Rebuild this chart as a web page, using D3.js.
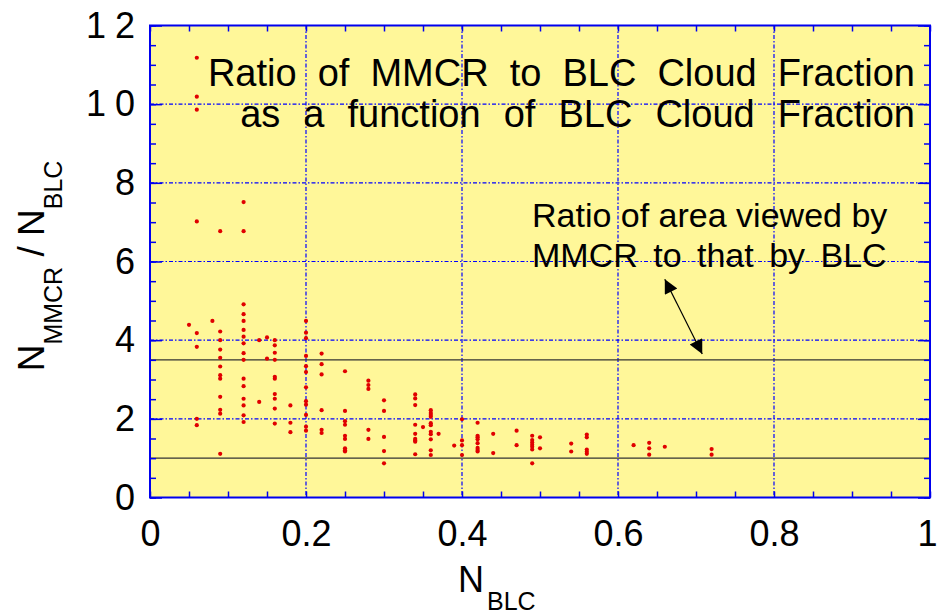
<!DOCTYPE html>
<html>
<head>
<meta charset="utf-8">
<script src="https://cdn.jsdelivr.net/npm/d3@7"></script>
<style>
  body { margin: 0; background: #fff; }
  svg { display: block; font-family: "Liberation Sans", Arial, sans-serif; }
</style>
</head>
<body>
<svg id="chart"></svg>
<script>
// N_BLC columns and the N_MMCR / N_BLC ratios read in each column
var blcFraction = [0.05, 0.06, 0.08, 0.09, 0.12, 0.14, 0.15, 0.16, 0.18, 0.20,
  0.22, 0.25, 0.28, 0.30, 0.34, 0.35, 0.36, 0.37, 0.39, 0.40, 0.42, 0.44,
  0.47, 0.49, 0.50, 0.54, 0.56, 0.62, 0.64, 0.66, 0.72];
var ratioByColumn = [
  [4.39],
  [11.18, 10.19, 9.86, 7.02, 4.18, 3.83, 2.0, 1.84],
  [4.49],
  [6.77, 4.22, 4.0, 3.76, 3.55, 3.33, 3.11, 3.02, 2.56, 2.23, 2.13, 1.11],
  [7.51, 6.77, 4.91, 4.66, 4.49, 4.26, 4.09, 3.92, 3.67, 3.50, 3.02, 2.83, 2.51, 2.34, 2.09, 1.92],
  [4.0, 2.43],
  [4.07, 3.53],
  [4.0, 3.87, 3.68, 3.50, 3.07, 3.02, 2.63, 2.51, 2.26, 1.88],
  [2.34, 1.90, 1.66],
  [4.49, 4.19, 4.05, 3.60, 3.34, 3.19, 2.80, 2.45, 2.36, 2.10, 1.80, 1.70],
  [3.66, 3.39, 3.13, 2.22, 1.72, 1.64],
  [3.21, 2.20, 1.94, 1.85, 1.57, 1.49, 1.25, 1.20, 1.17],
  [2.97, 2.86, 2.76, 1.72, 1.49],
  [2.47, 2.20, 1.54, 1.18, 0.87],
  [2.62, 2.52, 2.35, 1.85, 1.62, 1.49, 1.45, 1.42, 1.10],
  [1.79],
  [2.22, 2.15, 2.10, 2.05, 1.89, 1.84, 1.67, 1.61, 1.48, 1.20, 1.08],
  [1.62],
  [1.32],
  [1.99, 1.45, 1.33, 1.08],
  [1.90, 1.57, 1.53, 1.48, 1.38, 1.26, 1.21, 1.17],
  [1.62, 1.13],
  [1.70, 1.33],
  [1.57, 1.46, 1.40, 1.34, 1.29, 1.22, 0.87],
  [1.53, 1.25],
  [1.37, 1.17],
  [1.60, 1.53, 1.22, 1.16, 1.11],
  [1.33],
  [1.39, 1.25, 1.09],
  [1.29],
  [1.23, 1.09]
];

var xTicks = [0, 0.2, 0.4, 0.6, 0.8, 1];
var xTickLabels = ['0', '0.2', '0.4', '0.6', '0.8', '1'];
var yTicks = [0, 2, 4, 6, 8, 10, 12];
var yTickLabels = ['0', '2', '4', '6', '8', '10', '12'];
var refLines = [1.0, 3.5];   // horizontal reference levels
var titleLines = ['Ratio of MMCR to BLC Cloud Fraction', 'as a function of BLC Cloud Fraction'];
var noteLines = ['Ratio of area viewed by', 'MMCR to that by BLC'];
var arrowEnds = [[0.66, 5.55], [0.708, 3.65]];

var width = 937;
var height = 616;
var plotLeft = 150, plotRight = 930, plotTop = 25.5, plotBottom = 497.5;

var points = [];
blcFraction.forEach(function(bx, i) {
  ratioByColumn[i].forEach(function(r) { points.push({x: bx, y: r}); });
});

var x = d3.scaleLinear().domain([0, 1]).range([plotLeft, plotRight]);
var y = d3.scaleLinear().domain([0, 12]).range([plotBottom, plotTop]);

var svg = d3.select('#chart').attr('width', width).attr('height', height);

var defs = svg.append('defs');
defs.append('marker')
    .attr('id', 'head')
    .attr('viewBox', '0 0 10 10')
    .attr('refX', 10).attr('refY', 5)
    .attr('markerWidth', 18).attr('markerHeight', 14)
    .attr('markerUnits', 'userSpaceOnUse')
    .attr('orient', 'auto-start-reverse')
    .append('path')
    .attr('d', 'M0,0 L10,5 L0,10 Z')
    .attr('fill', '#000');

svg.append('rect')
    .attr('x', plotLeft).attr('y', plotTop)
    .attr('width', plotRight - plotLeft).attr('height', plotBottom - plotTop)
    .attr('fill', '#fff799');

// dash-dot grid
var grid = svg.append('g').attr('stroke', '#0000ff').attr('stroke-width', 1.2)
    .attr('stroke-dasharray', '4,2,1.5,2');
grid.selectAll('line.gx')
    .data(xTicks.filter(d => d > 0 && d < 1))
    .join('line')
    .attr('class', 'gx')
    .attr('x1', d => x(d)).attr('x2', d => x(d))
    .attr('y1', plotTop).attr('y2', plotBottom);
grid.selectAll('line.gy')
    .data(yTicks.filter(d => d > 0 && d < 12))
    .join('line')
    .attr('class', 'gy')
    .attr('x1', plotLeft).attr('x2', plotRight)
    .attr('y1', d => y(d)).attr('y2', d => y(d));

svg.selectAll('line.ref')
    .data(refLines)
    .join('line')
    .attr('class', 'ref')
    .attr('x1', plotLeft).attr('x2', plotRight)
    .attr('y1', d => y(d)).attr('y2', d => y(d))
    .attr('stroke', '#333')
    .attr('stroke-width', 1.4);

svg.append('g').selectAll('circle')
    .data(points)
    .join('circle')
    .attr('cx', d => x(d.x))
    .attr('cy', d => y(d.y))
    .attr('r', 2.1)
    .attr('fill', '#e00000');

// inward ticks on all four sides
var minorX = d3.range(0, 1.0001, 0.05);
var minorY = d3.range(0, 12.001, 0.5);
function tickAxis(axis, tx, ty) {
  var g = svg.append('g').attr('transform', 'translate(' + tx + ',' + ty + ')').call(axis);
  g.select('.domain').remove();
  g.selectAll('line').attr('stroke', '#0000ee').attr('stroke-width', 1.5);
  g.selectAll('text').remove();
}
tickAxis(d3.axisBottom(x).tickValues(minorX).tickSize(-6), 0, plotBottom);
tickAxis(d3.axisTop(x).tickValues(minorX).tickSize(-6), 0, plotTop);
tickAxis(d3.axisLeft(y).tickValues(minorY).tickSize(-6), plotLeft, 0);
tickAxis(d3.axisRight(y).tickValues(minorY).tickSize(-6), plotRight, 0);
tickAxis(d3.axisLeft(y).tickValues(yTicks).tickSize(-12), plotLeft, 0);
tickAxis(d3.axisRight(y).tickValues(yTicks).tickSize(-12), plotRight, 0);

svg.append('rect')
    .attr('x', plotLeft).attr('y', plotTop)
    .attr('width', plotRight - plotLeft).attr('height', plotBottom - plotTop)
    .attr('fill', 'none')
    .attr('stroke', '#0000ee')
    .attr('stroke-width', 2);

// tick labels
var xAxis = svg.append('g')
    .attr('transform', 'translate(0,' + plotBottom + ')')
    .call(d3.axisBottom(x).tickValues(xTicks).tickSize(0).tickPadding(23)
        .tickFormat((d, i) => xTickLabels[i]));
xAxis.select('.domain').remove();
xAxis.selectAll('text').attr('font-size', 36).attr('fill', '#000')
    .attr('font-family', '"Liberation Sans", Arial, sans-serif')
    .filter(d => d === 1)
    .attr('dx', -3);

var yAxis = svg.append('g')
    .attr('transform', 'translate(' + plotLeft + ',0)')
    .call(d3.axisLeft(y).tickValues(yTicks).tickSize(0).tickPadding(15)
        .tickFormat((d, i) => yTickLabels[i]));
yAxis.select('.domain').remove();
yAxis.selectAll('text').attr('font-size', 36).attr('fill', '#000')
    .attr('font-family', '"Liberation Sans", Arial, sans-serif')
    .filter(d => d >= 10)
    .attr('letter-spacing', 9)
    .attr('dx', 9);

// axis titles with subscripts
var xTitle = svg.append('text')
    .attr('x', 458).attr('y', 592)
    .attr('font-size', 36);
xTitle.append('tspan').text('N');
xTitle.append('tspan').attr('font-size', 25).attr('dy', 18).attr('dx', 3).text('BLC');

var yTitle = svg.append('text')
    .attr('transform', 'translate(44,266) rotate(-90)')
    .attr('text-anchor', 'middle')
    .attr('font-size', 37);
yTitle.append('tspan').text('N');
yTitle.append('tspan').attr('font-size', 25).attr('dy', 18).text('MMCR');
yTitle.append('tspan').attr('dy', -18).text(' / N');
yTitle.append('tspan').attr('font-size', 25).attr('dy', 18).text('BLC');

// chart title
svg.append('g').selectAll('text')
    .data(titleLines)
    .join('text')
    .attr('x', 915)
    .attr('y', (d, i) => 86 + i * 41)
    .attr('text-anchor', 'end')
    .attr('font-size', 38)
    .attr('word-spacing', (d, i) => i === 1 ? 12.5 : 10.5)
    .text(d => d);

// annotation and arrow
svg.append('g').selectAll('text')
    .data(noteLines)
    .join('text')
    .attr('x', 532)
    .attr('y', (d, i) => 227 + i * 40)
    .attr('font-size', 34)
    .attr('word-spacing', (d, i) => i === 1 ? 6 : 0)
    .text(d => d);

svg.append('line')
    .attr('x1', x(arrowEnds[0][0])).attr('y1', y(arrowEnds[0][1]))
    .attr('x2', x(arrowEnds[1][0])).attr('y2', y(arrowEnds[1][1]))
    .attr('stroke', '#000')
    .attr('stroke-width', 1.2)
    .attr('marker-start', 'url(#head)')
    .attr('marker-end', 'url(#head)');
</script>
</body>
</html>
